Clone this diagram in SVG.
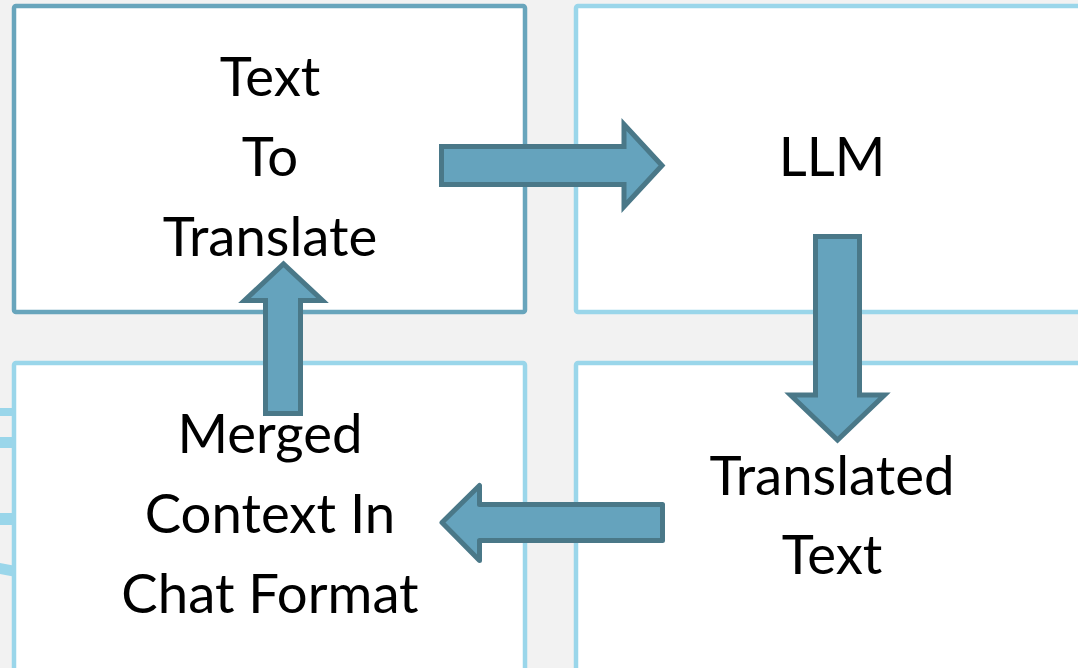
<svg xmlns="http://www.w3.org/2000/svg" width="1078" height="668" viewBox="0 0 1078 668">
  <style>
    .box { fill: #ffffff; stroke-width: 4.5; }
    .dark { stroke: #68a5bc; }
    .light { stroke: #9ad6ea; }
    .lbl { font-family: Lato, "Open Sans", "Liberation Sans", sans-serif; font-size: 54.5px; fill: #000000; text-anchor: middle; }
    .arrow { fill: #65a3bd; stroke: #4a7888; stroke-width: 5; }
    .stub { fill: #9ad6ea; }
  </style>
  <rect x="0" y="0" width="1078" height="668" fill="#f2f2f2"/>
  <g id="stubs">
    <polygon class="stub" points="0,408 16,408 16,416 0,416"/>
    <polygon class="stub" points="0,437 16,437 16,448 0,448"/>
    <polygon class="stub" points="0,513 16,513 16,525 0,525"/>
    <polygon class="stub" points="0,563 16,566 16,577 0,574"/>
  </g>
  <g id="node-text-to-translate">
    <rect class="box dark" x="14" y="6" width="511" height="306" rx="2"/>
    <text class="lbl" x="270" y="96">Text</text>
    <text class="lbl" x="270" y="176">To</text>
    <text class="lbl" x="270" y="256">Translate</text>
  </g>
  <g id="node-llm">
    <rect class="box light" x="576" y="6" width="520" height="306" rx="2"/>
    <text class="lbl" x="832" y="176">LLM</text>
  </g>
  <g id="node-merged-context">
    <rect class="box light" x="14" y="363" width="511" height="320" rx="2"/>
    <text class="lbl" x="270" y="453">Merged</text>
    <text class="lbl" x="270" y="533">Context In</text>
    <text class="lbl" x="270" y="613">Chat Format</text>
  </g>
  <g id="node-translated-text">
    <rect class="box light" x="576" y="363" width="520" height="320" rx="2"/>
    <text class="lbl" x="832" y="495">Translated</text>
    <text class="lbl" x="832" y="574">Text</text>
  </g>
  <g id="connectors">
    <path class="arrow" d="M441.5,146.5 H624 V124.5 L662,165.5 L624,206.5 V184.5 H441.5 Z"/>
    <path class="arrow" d="M815.5,236.5 H859.5 V395 H884.5 L837.5,440 L790.5,395 H815.5 Z"/>
    <path class="arrow" d="M662.5,504.5 V540.5 H479.5 V560.5 L442,522.5 L479.5,485.5 V504.5 Z" stroke-linejoin="round"/>
    <path class="arrow" d="M265.5,413.5 V300.5 H244.5 L283.5,264 L322.5,300.5 H300.5 V413.5 Z"/>
  </g>
</svg>
